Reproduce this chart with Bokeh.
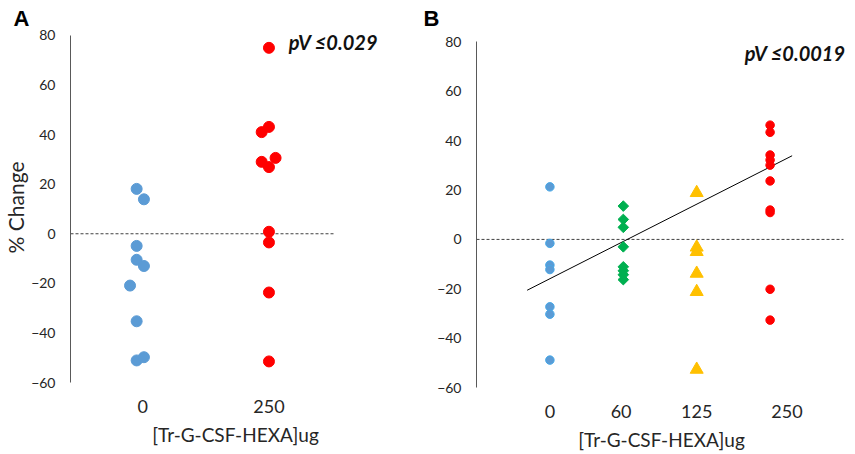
import math
from bokeh.plotting import figure
from bokeh.layouts import row
from bokeh.models import Label, FixedTicker, Range1d, Title
from bokeh.embed import file_html
from bokeh.resources import INLINE

# ---------------- Panel A data ----------------
a_ctrl_x = [1.0, 1.055, 1.0, 1.0, 1.055, 0.95, 1.0, 1.0, 1.055]
a_ctrl_y = [18.1, 13.9, -4.9, -10.5, -13.0, -20.9, -35.3, -51.1, -49.8]
a_trt_x = [2.0, 1.945, 2.0, 1.945, 2.05, 2.0, 2.0, 2.0, 2.0, 2.0]
a_trt_y = [75.0, 41.0, 43.1, 29.0, 30.6, 26.9, 0.8, -3.5, -23.7, -51.5]
a_tick_pos = [1.045, 2.0]
a_tick_labels = ["0", "250"]
a_x_axis = (0.5, 2.5)          # category axis extent (zero line span)

# ---------------- Panel B data ----------------
b0_y = [21.3, -1.6, -10.4, -12.2, -27.3, -30.3, -48.9]
b60_y = [13.5, 8.1, 4.9, -3.0, -11.1, -12.7, -14.3, -16.3]
b125_y = [18.9, -3.2, -5.0, -13.8, -21.2, -52.7]
b250_y = [46.3, 43.4, 34.2, 32.2, 30.1, 23.7, 11.9, 10.9, -20.2, -32.7]
b_groups = [1, 2, 3, 4]
b_tick_pos = [1.0, 1.97, 3.0, 4.23]
b_tick_labels = ["0", "60", "125", "250"]
b_x_axis = (0.0, 5.0)
trend_x = [0.69, 4.30]
trend_y = [-20.6, 33.9]

y_axis = (-60, 80)
y_ticks = [-60, -40, -20, 0, 20, 40, 60, 80]

FONT = "Lato"
TXT = "#262626"
AXIS = "#595959"


def style(p, tick_pos, tick_labels):
    p.grid.visible = False
    p.outline_line_color = None
    p.background_fill_color = "white"
    p.border_fill_color = "white"
    ya = p.yaxis[0]
    ya.ticker = FixedTicker(ticks=y_ticks)
    ya.bounds = y_axis
    ya.axis_line_color = AXIS
    ya.axis_line_width = 1
    ya.major_tick_line_color = None
    ya.minor_tick_line_color = None
    ya.major_tick_out = 0
    ya.major_tick_in = 0
    ya.minor_tick_out = 0
    ya.major_label_standoff = 15
    ya.major_label_text_font = FONT
    ya.major_label_text_font_size = "14px"
    ya.major_label_text_color = TXT
    xa = p.xaxis[0]
    xa.ticker = FixedTicker(ticks=tick_pos)
    xa.major_label_overrides = {t: l for t, l in zip(tick_pos, tick_labels)}
    xa.axis_line_color = None
    xa.major_tick_line_color = None
    xa.minor_tick_line_color = None
    xa.major_tick_out = 0
    xa.major_tick_in = 0
    xa.minor_tick_out = 0
    xa.major_label_standoff = 17
    xa.major_label_text_font = FONT
    xa.major_label_text_font_size = "18px"
    xa.major_label_text_color = TXT
    xa.axis_label = "[Tr-G-CSF-HEXA]ug"
    xa.axis_label_text_font = FONT
    xa.axis_label_text_font_size = "19px"
    xa.axis_label_text_font_style = "normal"
    xa.axis_label_text_color = TXT
    xa.axis_label_standoff = 7


def letter(text, offset):
    return Title(text=text, align="left", offset=offset, standoff=4,
                 vertical_align="bottom", text_font="Liberation Sans",
                 text_font_size="22px", text_font_style="bold",
                 text_color="black")


# ---------------- Panel A ----------------
a_px = 132.3   # pixels per category unit
pA = figure(frame_width=330, frame_height=350, output_backend="svg",
            toolbar_location=None,
            x_range=Range1d(a_x_axis[0], a_x_axis[0] + 330 / a_px),
            y_range=Range1d(y_axis[0], y_axis[0] + 350 / 2.479),
            min_border_left=62, min_border_right=15,
            min_border_top=32, min_border_bottom=56)
style(pA, a_tick_pos, a_tick_labels)
pA.add_layout(letter("A", -57), "above")
ya = pA.yaxis[0]
ya.axis_label = "% Change"
ya.axis_label_text_font = FONT
ya.axis_label_text_font_size = "21px"
ya.axis_label_text_font_style = "normal"
ya.axis_label_text_color = TXT
ya.axis_label_standoff = 0

pA.segment(x0=[a_x_axis[0]], y0=[0], x1=[a_x_axis[1]], y1=[0],
           line_color="#404040", line_width=1, line_dash="3 2")
pA.scatter(a_ctrl_x, a_ctrl_y, size=11, fill_color="#5B9BD5",
           line_color="#5B9BD5")
pA.scatter(a_trt_x, a_trt_y, size=11, fill_color="#FF0000",
           line_color="#FF0000")
pA.add_layout(Label(x=2.149, y=77.2, text="pV \u22640.029",
                    text_font=FONT, text_font_size="20px",
                    text_font_style="bold italic", text_color="#111111",
                    text_baseline="middle", text_align="left"))

# ---------------- Panel B ----------------
b_px = 73.4
pB = figure(frame_width=370, frame_height=355, output_backend="svg",
            toolbar_location=None,
            x_range=Range1d(b_x_axis[0], b_x_axis[0] + 370 / b_px),
            y_range=Range1d(y_axis[0], y_axis[0] + 355 / 2.468),
            min_border_left=61, min_border_right=1,
            min_border_top=32, min_border_bottom=51)
style(pB, b_tick_pos, b_tick_labels)
pB.add_layout(letter("B", -53), "above")
pB.segment(x0=[b_x_axis[0]], y0=[0], x1=[b_x_axis[1]], y1=[0],
           line_color="#404040", line_width=1, line_dash="3 2")
pB.line(trend_x, trend_y, line_color="black", line_width=1)
pB.scatter([b_groups[0]] * len(b0_y), b0_y, size=8.5,
           fill_color="#5B9BD5", line_color="#45A8E8")
pB.scatter([b_groups[1]] * len(b60_y), b60_y, marker="square",
           angle=math.pi / 4, size=7.5, fill_color="#00B050",
           line_color="#00B050")
pB.scatter([b_groups[2]] * len(b125_y), b125_y, marker="triangle",
           size=13, fill_color="#FFC000", line_color="#FFC000")
pB.scatter([b_groups[3]] * len(b250_y), b250_y, size=8.5,
           fill_color="#FF0000", line_color="#FF0000")
pB.add_layout(Label(x=5.03, y=75.5, text="pV \u22640.0019",
                    text_font=FONT, text_font_size="20px",
                    text_font_style="bold italic", text_color="#111111",
                    text_baseline="middle", text_align="right"))

layout = row(pA, pB, spacing=0)
open("out.html", "w").write(file_html(layout, INLINE))
